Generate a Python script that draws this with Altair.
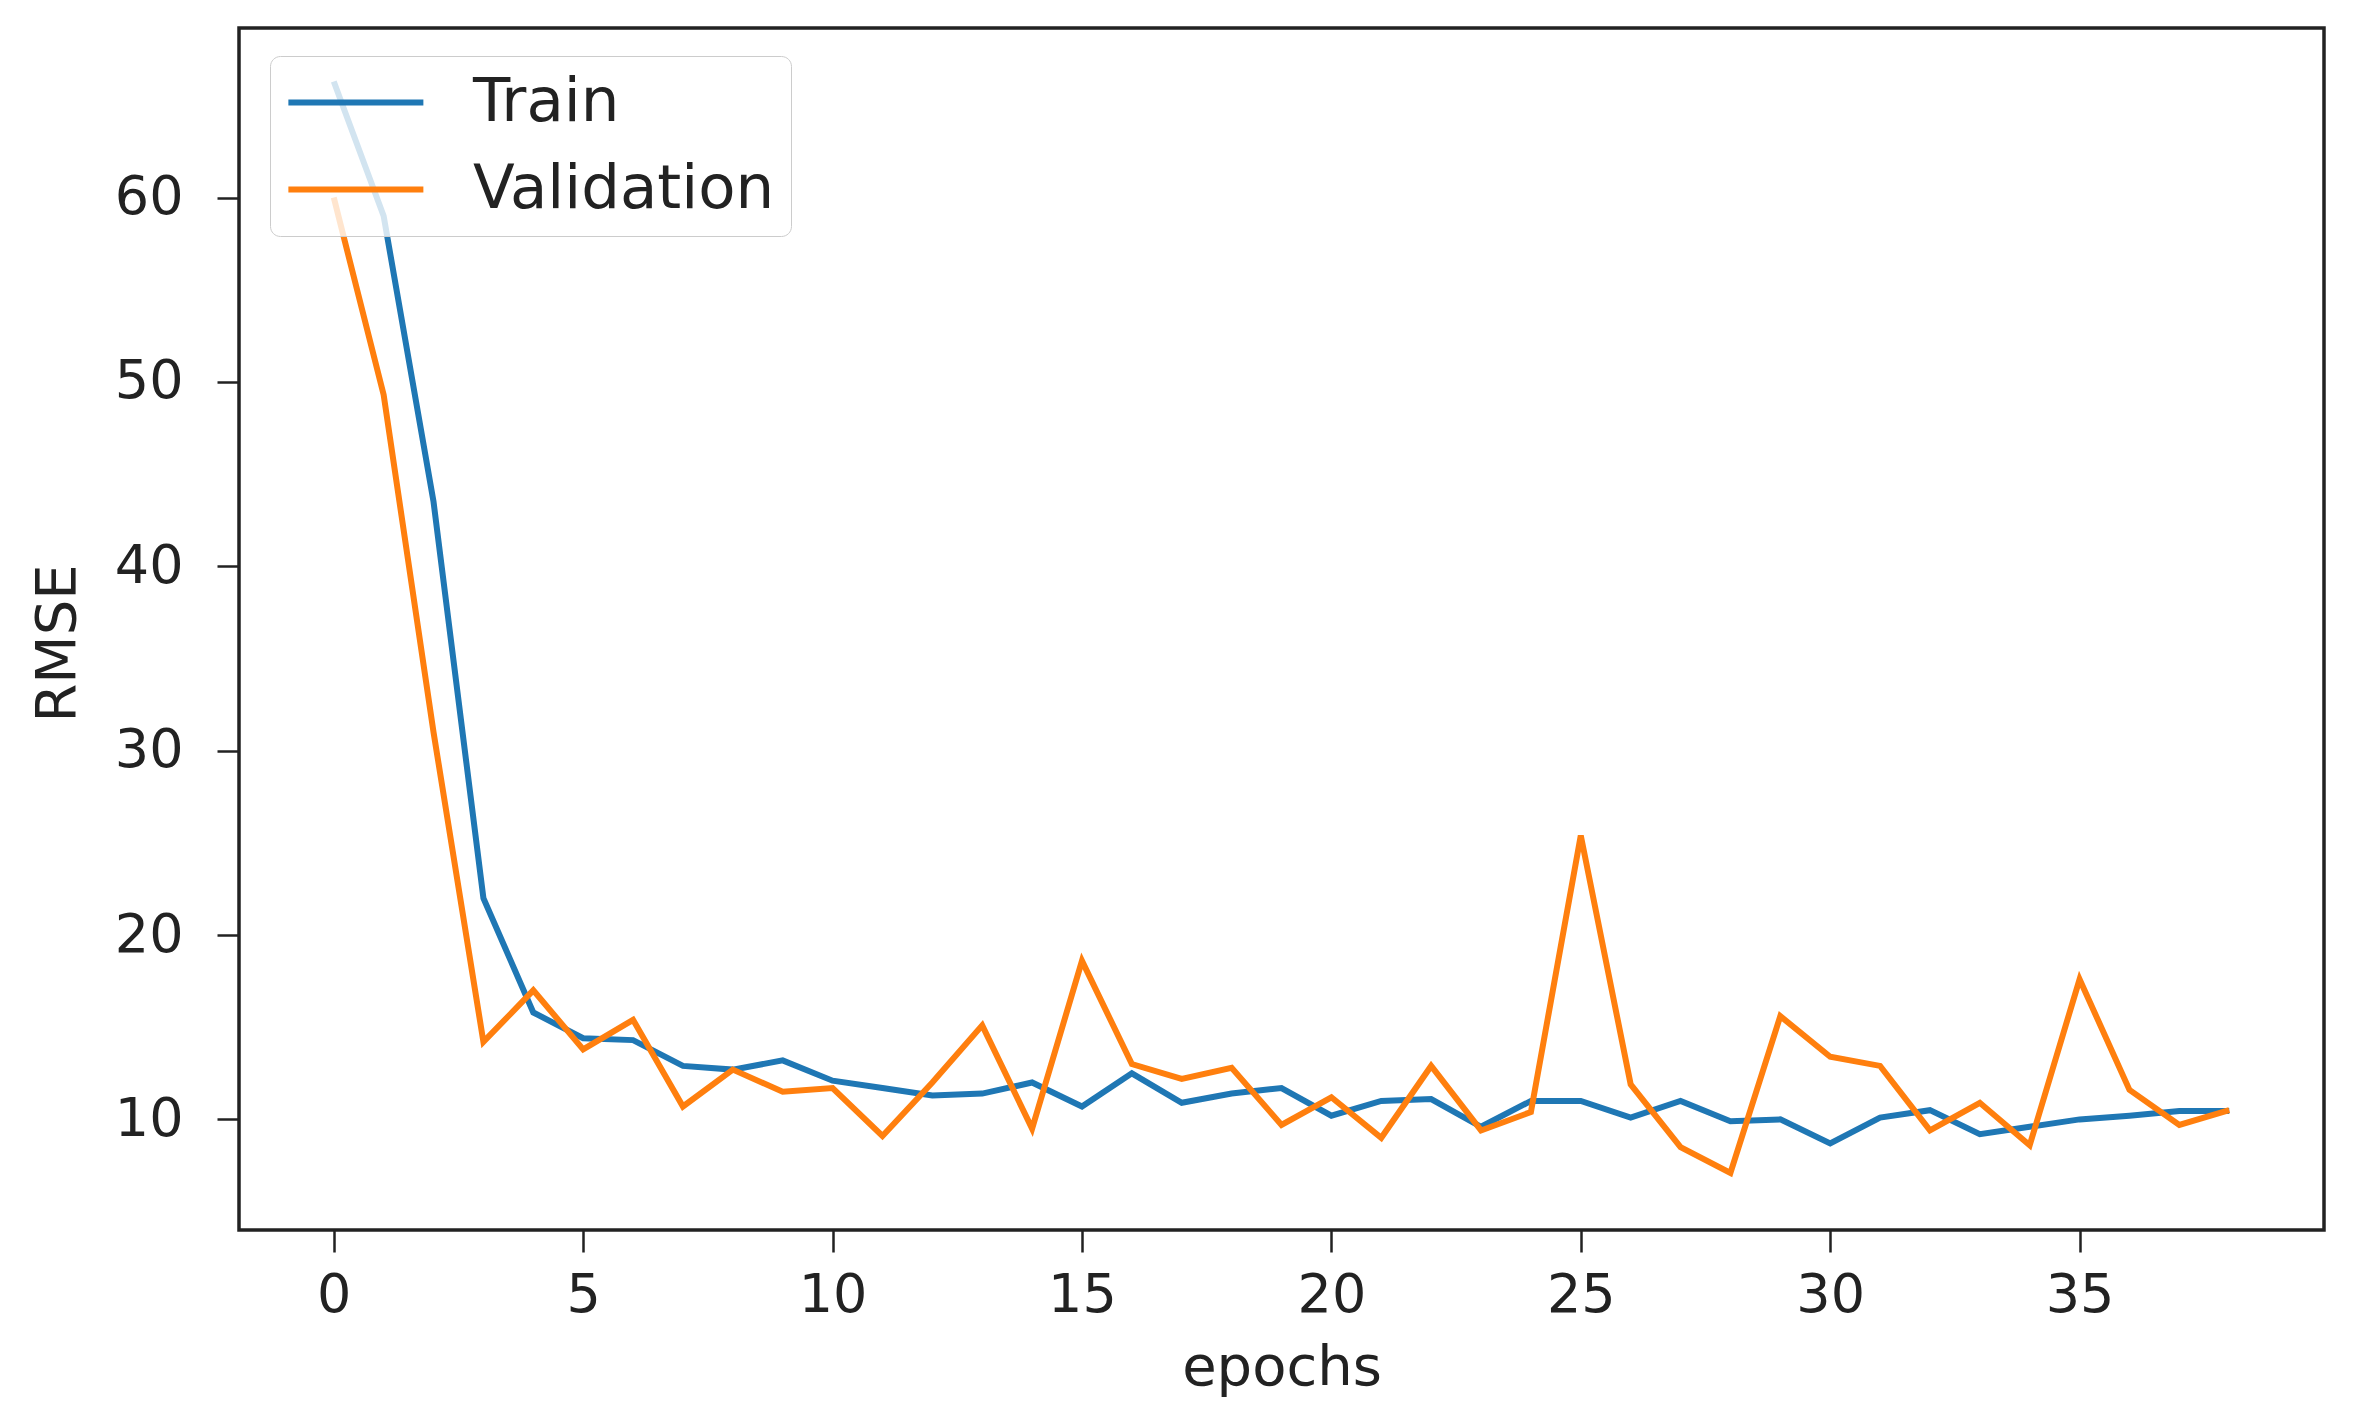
import altair as alt
import pandas as pd

epochs = list(range(39))
train = [66.3, 59.0, 43.5, 22.0, 15.8, 14.4, 14.3, 12.9, 12.7, 13.2,
         12.1, 11.7, 11.3, 11.4, 12.0, 10.7, 12.5, 10.9, 11.4, 11.7,
         10.2, 11.0, 11.1, 9.6, 11.0, 11.0, 10.1, 11.0, 9.9, 10.0,
         8.7, 10.1, 10.5, 9.2, 9.6, 10.0, 10.2, 10.45, 10.45]
validation = [60.0, 49.3, 31.0, 14.2, 17.0, 13.8, 15.4, 10.7, 12.7, 11.5,
              11.7, 9.1, 12.0, 15.1, 9.5, 18.6, 13.0, 12.2, 12.8, 9.7,
              11.2, 9.0, 12.9, 9.4, 10.4, 25.4, 11.9, 8.5, 7.1, 15.6,
              13.4, 12.9, 9.4, 10.9, 8.6, 17.6, 11.6, 9.7, 10.5]
series_names = ["Train", "Validation"]
series_colors = ["#1f77b4", "#ff7f0e"]
x_ticks = [0, 5, 10, 15, 20, 25, 30, 35]
y_ticks = [10, 20, 30, 40, 50, 60]

df = pd.concat([
    pd.DataFrame({"epoch": epochs, "rmse": train, "series": series_names[0]}),
    pd.DataFrame({"epoch": epochs, "rmse": validation, "series": series_names[1]}),
])

FONT = "DejaVu Sans"

chart = alt.Chart(df).mark_line(strokeWidth=6, clip=True).encode(
    x=alt.X("epoch:Q",
            scale=alt.Scale(domain=[-1.9, 39.9], nice=False, zero=False),
            axis=alt.Axis(title="epochs", values=x_ticks, format="d", grid=False,
                          domain=False, tickSize=22, tickWidth=2.5, tickColor="#222",
                          labelPadding=16, labelFontSize=54, labelFont=FONT,
                          labelColor="#222", titleFontSize=56, titleFont=FONT,
                          titleFontWeight="normal", titleColor="#222",
                          titleBaseline="top", titleY=110)),
    y=alt.Y("rmse:Q",
            scale=alt.Scale(domain=[4.0, 69.2], nice=False, zero=False),
            axis=alt.Axis(title="RMSE", values=y_ticks, grid=False, domain=False,
                          tickSize=22, tickWidth=2.5, tickColor="#222",
                          labelPadding=34, labelFontSize=54, labelFont=FONT,
                          labelColor="#222", titleFontSize=56, titleFont=FONT,
                          titleFontWeight="normal", titleColor="#222",
                          titleAngle=270, titleAlign="center", titleBaseline="middle",
                          titleX=-182, titleY=615)),
    color=alt.Color("series:N",
                    scale=alt.Scale(domain=series_names, range=series_colors),
                    legend=alt.Legend(title=None, orient="none", legendX=31, legendY=28,
                                      symbolType="M-1.25,0H4.75", symbolSize=2025,
                                      symbolStrokeWidth=6, symbolFillColor="transparent",
                                      labelFontSize=61,
                                      labelFont=FONT, labelColor="#222",
                                      labelOffset=126, labelLimit=700, rowPadding=25,
                                      padding=16, fillColor="rgba(255,255,255,0.8)",
                                      strokeColor="#cccccc", cornerRadius=10)),
).properties(
    width=2085, height=1202,
    autosize=alt.AutoSizeParams(type="none"),
    padding={"left": 231, "top": 20, "right": 23, "bottom": 189},
).configure(
    background="white"
).configure_view(
    stroke="#222", strokeWidth=3.5
)

chart.save("out.html", embed_options={"renderer": "svg", "actions": False})
